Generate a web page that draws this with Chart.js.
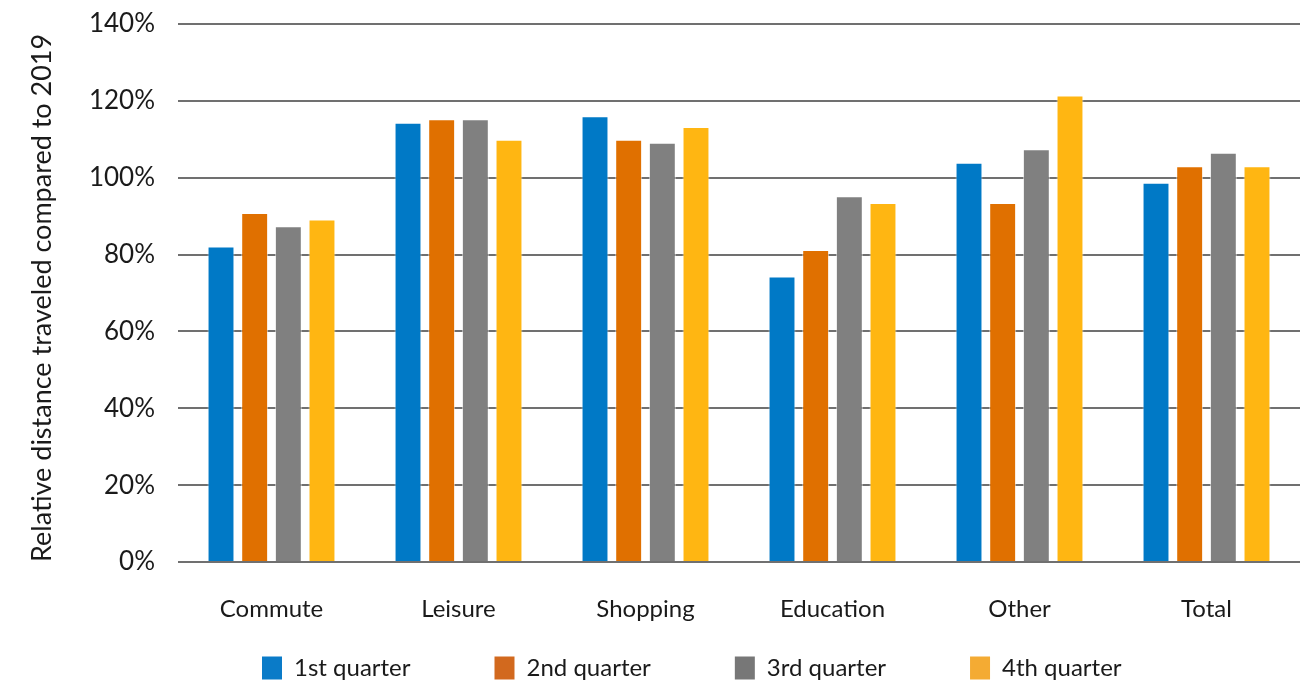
<!DOCTYPE html>
<html>
<head>
<meta charset="utf-8">
<script src="https://cdn.jsdelivr.net/npm/chart.js@4/dist/chart.umd.min.js"></script>
<style>
  html,body{margin:0;padding:0;background:#fff;}
  #wrap{width:1309px;height:684px;position:relative;}
</style>
</head>
<body>
<div id="wrap"><canvas id="chart"></canvas></div>
<script>
// data
const categories=['Commute','Leisure','Shopping','Education','Other','Total'];
const q1=[82.1,114.3,116.0,74.3,103.9,98.7];
const q2=[90.8,115.2,109.9,81.2,93.4,103.0];
const q3=[87.4,115.2,109.1,95.2,107.4,106.5];
const q4=[89.1,109.9,113.2,93.4,121.4,103.0];
const seriesNames=['1st quarter','2nd quarter','3rd quarter','4th quarter'];
const barColors=['#0079c6','#e07000','#808080','#ffb612'];
const legendColors=['#0a7bc8','#d2691e','#777777','#f4ab33'];
const yTicks=[0,20,40,60,80,100,120,140];

const FONT='Lato, "Open Sans", sans-serif';
const INK='#1a1a1a';

const datasets=[q1,q2,q3,q4].map((d,i)=>({
  label:seriesNames[i],
  data:d,
  backgroundColor:barColors[i],
  borderColor:'rgba(255,255,255,0.6)',
  borderWidth:1,
  barPercentage:0.8,
  categoryPercentage:0.72
}));

new Chart(document.getElementById('chart'),{
  type:'bar',
  data:{labels:categories,datasets},
  options:{
    responsive:true,
    maintainAspectRatio:false,
    animation:false,
    layout:{padding:{top:0,right:9,left:0,bottom:-6}},
    plugins:{
      tooltip:{enabled:false},
      legend:{
        position:'bottom',
        fullSize:false,
        align:'start',
        labels:{
          font:{family:FONT,size:24},
          color:INK,
          boxWidth:20,
          boxHeight:23,
          padding:84,
          generateLabels:chart=>seriesNames.map((n,i)=>({
            text:n,fillStyle:legendColors[i],strokeStyle:legendColors[i],
            lineWidth:0,datasetIndex:i,hidden:false,fontColor:INK
          }))
        }
      }
    },
    scales:{
      x:{
        grid:{display:false},
        border:{display:false},
        // thin axis box; mirrored labels are not clipped, so they hang
        // down into the empty top band of the legend box
        afterFit:s=>{s.height=10;},
        ticks:{font:{family:FONT,size:24},color:INK,mirror:true,padding:-62}
      },
      y:{
        min:0,max:140,
        afterBuildTicks:s=>{s.ticks=yTicks.map(v=>({value:v}));},
        afterFit:s=>{s.width=178;s.paddingTop=24;},
        grid:{color:'#707070',lineWidth:2,drawTicks:false},
        border:{display:false},
        ticks:{font:{family:FONT,size:26},color:INK,padding:23,callback:v=>v+'%'},
        title:{display:true,align:'start',text:'Relative distance traveled compared to 2019',
          font:{family:FONT,size:27},color:INK,padding:{top:26,bottom:0}}
      }
    }
  }
});
</script>
</body>
</html>
